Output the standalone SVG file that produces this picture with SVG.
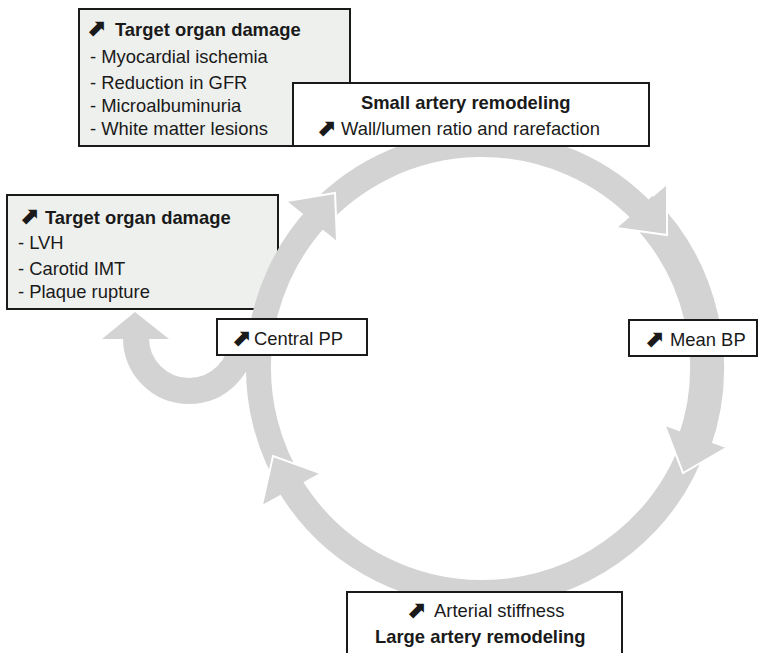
<svg xmlns="http://www.w3.org/2000/svg" width="758" height="653" viewBox="0 0 758 653">
<style>
.box{stroke:#1a1a1a;stroke-width:2}
.gray{fill:#eef0ee}
.white{fill:#fff}
text{font-family:"Liberation Sans",Arial,sans-serif;font-size:18.4px;fill:#1a1a1a}
.b{font-weight:bold}
.ar{font-family:"DejaVu Sans",sans-serif;font-size:24px;font-weight:bold}
.ring{fill:none;stroke:#d3d3d3}
.head{fill:#d3d3d3}
.edge{fill:none;stroke:#fff;stroke-width:2}
</style>
<rect width="758" height="653" fill="#fff"/>
<g id="tod-left">
<rect class="box gray" x="7" y="195" width="271" height="114"/>
<text y="224"><tspan class="ar" x="19">⬈</tspan><tspan class="b" x="45">Target organ damage</tspan></text>
<text x="18" y="249">- LVH</text>
<text x="18" y="275">- Carotid IMT</text>
<text x="18" y="298">- Plaque rupture</text>
</g>
<g id="tod-top">
<rect class="box gray" x="79" y="9" width="271" height="137"/>
<text y="36"><tspan class="ar" x="86">⬈</tspan><tspan class="b" x="115">Target organ damage</tspan></text>
<text x="90" y="63">- Myocardial ischemia</text>
<text x="90" y="89">- Reduction in GFR</text>
<text x="90" y="112">- Microalbuminuria</text>
<text x="90" y="135">- White matter lesions</text>
</g>
<g id="connectors">
<path class="ring" stroke-width="25" d="M293.3 487.8A223.5 223.5 0 0 1 317.2 217.0"/>
<path class="ring" stroke-width="26" d="M312.6 221.5A224 224 0 0 1 644.5 213.8"/>
<path class="ring" stroke-width="34" d="M640.3 208.1A225 225 0 0 1 694.1 443.1"/>
<path class="ring" stroke-width="26" d="M696.1 437.2A225 225 0 0 1 288.1 482.2"/>
<path class="ring" stroke-width="26" d="M242 338A53 53 0 0 1 136 338"/>
<polygon class="head" points="102,339 169,339 135,312"/>
<polygon class="head" points="287,201 335,193 337,241"/>
<path class="edge" d="M287 201L335 193L337 241"/>
<polygon class="head" points="667,185 667,235 617,228"/>
<path class="edge" d="M667 185L667 235L617 228"/>
<polygon class="head" points="726,448 683,473 665,426"/>
<path class="edge" d="M726 448L683 473L665 426"/>
<polygon class="head" points="262,505 273,456 320,473"/>
<path class="edge" d="M262 505L273 456L320 473"/>
</g>
<g id="small-artery">
<rect class="box white" x="293" y="83" width="356" height="63"/>
<text class="b" x="361" y="109">Small artery remodeling</text>
<text y="136"><tspan class="ar" x="316">⬈</tspan><tspan x="341" dy="-1">Wall/lumen ratio and rarefaction</tspan></text>
</g>
<g id="central-pp">
<rect class="box white" x="217" y="319" width="150" height="36"/>
<text y="346"><tspan class="ar" x="231">⬈</tspan><tspan x="254" dy="-1">Central PP</tspan></text>
</g>
<g id="mean-bp">
<rect class="box white" x="629" y="320" width="128" height="36"/>
<text y="347"><tspan class="ar" x="644">⬈</tspan><tspan x="670" dy="-1">Mean BP</tspan></text>
</g>
<g id="large-artery">
<rect class="box white" x="347" y="592" width="275" height="70"/>
<text y="618"><tspan class="ar" x="406">⬈</tspan><tspan x="434" dy="-1">Arterial stiffness</tspan></text>
<text class="b" x="375" y="643">Large artery remodeling</text>
</g>
</svg>
